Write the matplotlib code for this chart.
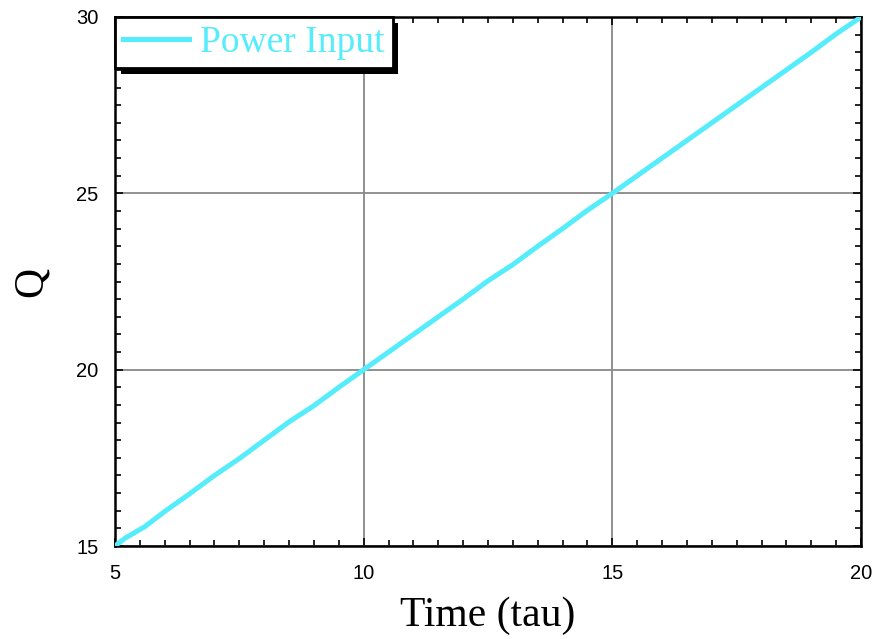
import numpy as np
import matplotlib
matplotlib.use('Agg')
import matplotlib.pyplot as plt
import matplotlib.patheffects as pe
from matplotlib.ticker import MultipleLocator

# power input curve
time_tau = [5.0, 5.2, 5.6, 6.0, 6.5, 7.0, 7.5, 8.0, 8.5, 9.0, 9.5, 10.0,
            10.5, 11.0, 11.5, 12.0, 12.5, 13.0, 13.5, 14.0, 14.5, 15.0,
            15.5, 16.0, 16.5, 17.0, 17.5, 18.0, 18.5, 19.0, 19.5, 20.0]
q_power = [15.0, 15.22, 15.55, 15.98, 16.48, 17.0, 17.48, 18.0, 18.52, 18.98,
           19.5, 20.0, 20.5, 21.0, 21.5, 22.0, 22.52, 22.98, 23.5, 24.0,
           24.52, 25.0, 25.5, 26.0, 26.5, 27.0, 27.5, 28.0, 28.5, 29.0,
           29.52, 30.0]

x_ticks = [5, 10, 15, 20]
y_ticks = [15, 20, 25, 30]

line_color = '#55ecfb'

fig = plt.figure(figsize=(8.77, 6.39), dpi=100)
ax = fig.add_axes([0.1311, 0.1455, 0.8507, 0.8279])

ax.plot(time_tau, q_power, color=line_color, linewidth=3.6, label='Power Input', zorder=3)

ax.set_xlim(5, 20)
ax.set_ylim(15, 30)
ax.set_xticks(x_ticks)
ax.set_yticks(y_ticks)
ax.xaxis.set_minor_locator(MultipleLocator(0.5))
ax.yaxis.set_minor_locator(MultipleLocator(0.5))

# inward ticks on all four sides
ax.tick_params(which='both', direction='in', top=True, right=True, width=1.2, color='black')
ax.tick_params(which='major', length=6)
ax.tick_params(axis='x', which='major', pad=13)
ax.tick_params(axis='y', which='major', pad=12)
ax.tick_params(which='minor', length=4)
for lab in ax.get_xticklabels() + ax.get_yticklabels():
    lab.set_family('Liberation Sans')
    lab.set_fontsize(14.5)

for sp in ax.spines.values():
    sp.set_linewidth(1.8)
    sp.set_color('black')

ax.grid(True, which='major', color='#888888', linewidth=1.3)
ax.set_axisbelow(True)

ax.set_xlabel('Time (tau)', family='Liberation Serif', fontsize=30, labelpad=10)
ax.set_ylabel('Q', family='Liberation Serif', fontsize=30, labelpad=18)

leg = ax.legend(loc='upper left', borderaxespad=0, fancybox=False,
                prop={'family': 'Liberation Serif', 'size': 27},
                labelcolor='linecolor', handlelength=1.75, handletextpad=0.3,
                borderpad=0.22, framealpha=1)
frame = leg.get_frame()
frame.set_edgecolor('black')
frame.set_linewidth(2.0)
frame.set_path_effects([pe.SimplePatchShadow(offset=(4, -4), shadow_rgbFace='black', alpha=1),
                        pe.Normal()])
leg.set_zorder(5)

plt.savefig('out.png', dpi=100)
